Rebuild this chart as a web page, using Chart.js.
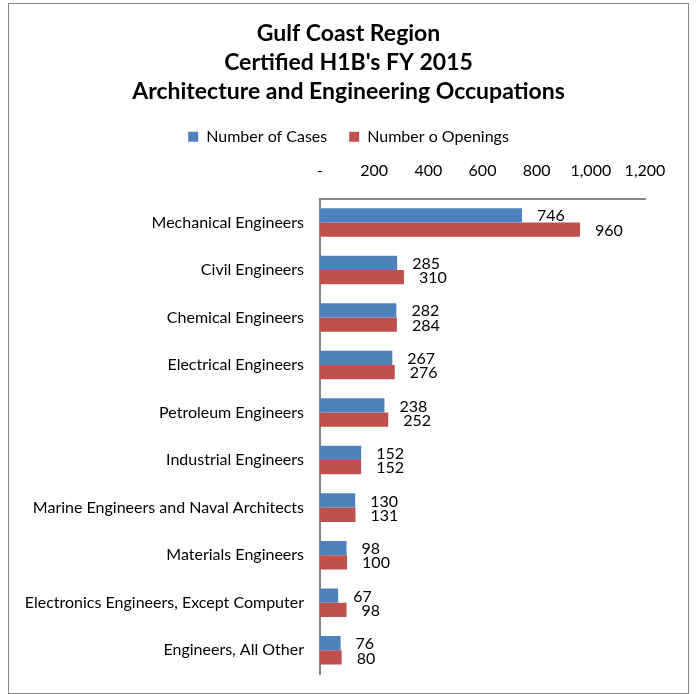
<!DOCTYPE html>
<html>
<head>
<meta charset="utf-8">
<script src="https://cdn.jsdelivr.net/npm/chart.js@4/dist/chart.umd.min.js"></script>
<style>
  html, body { margin: 0; padding: 0; background: #fff; }
  #frame {
    position: absolute; left: 8px; top: 3px;
    width: 679px; height: 689px;
    border: 1px solid #888;
  }
  #chart { display: block; }
</style>
</head>
<body>
<div id="frame"><canvas id="chart" width="679" height="689"></canvas></div>
<script>
// Gulf Coast certified H1B's, FY 2015 - architecture and engineering
const titleLines = ['Gulf Coast Region', "Certified H1B's FY 2015", 'Architecture and Engineering Occupations'];
const occupations = [
  'Mechanical Engineers',
  'Civil Engineers',
  'Chemical Engineers',
  'Electrical Engineers',
  'Petroleum Engineers',
  'Industrial Engineers',
  'Marine Engineers and Naval Architects',
  'Materials Engineers',
  'Electronics Engineers, Except Computer',
  'Engineers, All Other'
];
const numberOfCases = [746, 285, 282, 267, 238, 152, 130, 98, 67, 76];
const numberOfOpenings = [960, 310, 284, 276, 252, 152, 131, 100, 98, 80];
const tickValues = [0, 200, 400, 600, 800, 1000, 1200];

const FONT = 'Lato, Carlito, Calibri, sans-serif';

// draws each value just past the end of its bar
const valueLabels = {
  id: 'valueLabels',
  afterDatasetsDraw(chart) {
    const ctx = chart.ctx;
    ctx.save();
    ctx.font = '16px ' + FONT;
    ctx.fillStyle = '#000';
    ctx.textAlign = 'left';
    ctx.textBaseline = 'middle';
    chart.data.datasets.forEach((ds, i) => {
      chart.getDatasetMeta(i).data.forEach((bar, j) => {
        ctx.fillText(ds.data[j].toLocaleString('en-US'), bar.x + 15, bar.y + 1);
      });
    });
    ctx.restore();
  }
};

// long category names run into the left padding; let the y axis use it
// so its labels are not clipped
const widenCategoryAxis = {
  id: 'widenCategoryAxis',
  afterLayout(chart) {
    const y = chart.scales.y;
    y.left = 0;
    y.width = y.right;
  }
};

new Chart(document.getElementById('chart'), {
  type: 'bar',
  data: {
    labels: occupations,
    datasets: [
      { label: 'Number of Cases', data: numberOfCases, backgroundColor: '#4F81BD' },
      { label: 'Number o Openings', data: numberOfOpenings, backgroundColor: '#C0504D' }
    ]
  },
  options: {
    indexAxis: 'y',
    responsive: false,
    animation: false,
    categoryPercentage: 0.6,
    barPercentage: 1.0,
    // equal side padding keeps title and legend centred on the frame
    layout: { padding: { top: 15, right: 43, bottom: 19, left: 43 } },
    plugins: {
      title: {
        display: true,
        text: titleLines,
        color: '#000',
        font: { family: FONT, size: 23, weight: 'bold', lineHeight: 1.27 },
        padding: { top: 0, bottom: 0 }
      },
      legend: {
        position: 'top',
        labels: {
          color: '#000',
          font: { family: FONT, size: 16 },
          boxWidth: 10,
          boxHeight: 10,
          padding: 22
        }
      },
      tooltip: { enabled: false }
    },
    scales: {
      x: {
        position: 'top',
        min: 0,
        max: 1200,
        afterBuildTicks(scale) {
          scale.ticks = tickValues.map(v => ({ value: v }));
        },
        afterFit(scale) { scale.height = 44; },
        ticks: {
          color: '#000',
          font: { family: FONT, size: 16 },
          padding: 18,
          callback: v => v === 0 ? '-' : v.toLocaleString('en-US')
        },
        grid: { display: false, drawTicks: false },
        border: { display: true, color: '#868686', width: 2 }
      },
      y: {
        afterFit(scale) {
          scale.width = 268;
          scale.paddingBottom = 0;
        },
        ticks: {
          color: '#000',
          font: { family: FONT, size: 16 },
          padding: 16
        },
        grid: { display: false, drawTicks: false },
        border: { display: true, color: '#868686', width: 2 }
      }
    }
  },
  plugins: [valueLabels, widenCategoryAxis]
});
</script>
</body>
</html>
